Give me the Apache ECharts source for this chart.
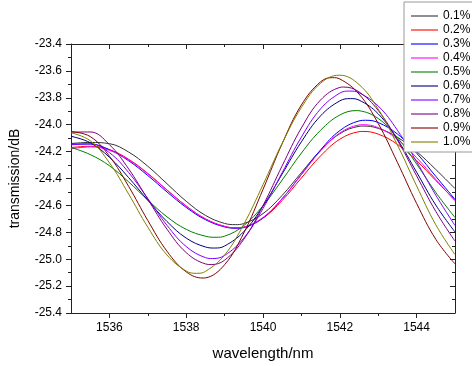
<!DOCTYPE html>
<html>
<head>
<meta charset="utf-8">
<script src="https://cdn.jsdelivr.net/npm/echarts@6/dist/echarts.min.js"></script>
<style>
  html, body { margin: 0; padding: 0; background: #fff; }
  #chart { width: 472px; height: 366px; }
</style>
</head>
<body>
<div id="chart"></div>
<script>
  // wavelength samples (nm)
  var wavelength = [1535, 1535.5, 1536, 1536.5, 1537, 1537.5, 1538, 1538.5, 1539, 1539.5, 1540,
                    1540.5, 1541, 1541.5, 1542, 1542.5, 1543, 1543.5, 1544, 1544.5, 1545];

  var names = ['0.1%', '0.2%', '0.3%', '0.4%', '0.5%', '0.6%', '0.7%', '0.8%', '0.9%', '1.0%'];
  var colors = ['#333333', '#ff0000', '#0000ff', '#ff00ff', '#008000', '#000080', '#8000ff', '#800080', '#800000', '#808000'];

  // transmission (dB) at the samples above
  var t01 = [-24.140, -24.132, -24.141, -24.203, -24.309, -24.439, -24.569, -24.674, -24.734, -24.735, -24.661,
             -24.525, -24.356, -24.191, -24.067, -24.012, -24.027, -24.093, -24.200, -24.333, -24.475];
  var t02 = [-24.170, -24.160, -24.185, -24.257, -24.362, -24.485, -24.604, -24.700, -24.756, -24.762, -24.695,
             -24.563, -24.396, -24.232, -24.108, -24.052, -24.070, -24.146, -24.268, -24.415, -24.562];
  var t03 = [-24.145, -24.144, -24.186, -24.268, -24.378, -24.500, -24.615, -24.706, -24.760, -24.765, -24.693,
             -24.550, -24.369, -24.187, -24.044, -23.972, -23.984, -24.069, -24.211, -24.384, -24.555];
  var t04 = [-24.180, -24.165, -24.190, -24.261, -24.366, -24.487, -24.605, -24.700, -24.756, -24.762, -24.690,
             -24.549, -24.371, -24.195, -24.062, -24.002, -24.022, -24.108, -24.245, -24.407, -24.566];
  var t05 = [-24.169, -24.222, -24.305, -24.425, -24.560, -24.685, -24.778, -24.829, -24.829, -24.750, -24.602,
             -24.411, -24.211, -24.041, -23.928, -23.896, -23.954, -24.096, -24.292, -24.504, -24.690];
  var t06 = [-24.086, -24.134, -24.242, -24.393, -24.562, -24.720, -24.843, -24.909, -24.902, -24.795, -24.605,
             -24.366, -24.127, -23.934, -23.823, -23.817, -23.919, -24.110, -24.353, -24.598, -24.798];
  var t07 = [-24.150, -24.142, -24.208, -24.355, -24.549, -24.748, -24.906, -24.988, -24.972, -24.843, -24.623,
             -24.356, -24.092, -23.882, -23.765, -23.763, -23.861, -24.041, -24.275, -24.524, -24.750];
  var t08 = [-24.055, -24.054, -24.148, -24.328, -24.554, -24.777, -24.951, -25.035, -25.007, -24.852, -24.601,
             -24.305, -24.024, -23.816, -23.723, -23.756, -23.894, -24.115, -24.380, -24.645, -24.866];
  var t09 = [-24.052, -24.088, -24.234, -24.458, -24.712, -24.941, -25.094, -25.139, -25.041, -24.805, -24.481,
             -24.140, -23.853, -23.681, -23.660, -23.772, -23.991, -24.280, -24.585, -24.852, -25.035];
  var t10 = [-24.060, -24.119, -24.283, -24.515, -24.762, -24.969, -25.088, -25.091, -24.969, -24.740, -24.446,
             -24.138, -23.872, -23.692, -23.632, -23.701, -23.884, -24.151, -24.455, -24.744, -24.966];

  // dip and peak of each curve (wavelength, dB)
  var dipWl   = [1539.28, 1539.33, 1539.33, 1539.33, 1538.78, 1538.74, 1538.69, 1538.65, 1538.44, 1538.27];
  var dipVal  = [-24.743, -24.767, -24.770, -24.767, -24.837, -24.917, -24.995, -25.040, -25.140, -25.105];
  var peakWl  = [1542.60, 1542.60, 1542.67, 1542.60, 1542.44, 1542.28, 1542.25, 1542.10, 1541.81, 1541.98];
  var peakVal = [-24.010, -24.050, -23.967, -24.000, -23.895, -23.806, -23.750, -23.720, -23.650, -23.632];

  var xMajor = [1536, 1538, 1540, 1542, 1544];
  var xMinor = [1537, 1539, 1541, 1543];

  var allSeries = [t01, t02, t03, t04, t05, t06, t07, t08, t09, t10];
  var font = 'Liberation Sans, Arial, sans-serif';

  var chart = echarts.init(document.getElementById('chart'));

  function xAxisOf(pos, ticks, len, major) {
    return {
      type: 'value',
      position: pos,
      min: 1535,
      max: 1545,
      name: (pos === 'bottom' && major) ? 'wavelength/nm' : '',
      nameLocation: 'middle',
      nameGap: 33,
      nameTextStyle: { fontFamily: font, fontSize: 15, color: '#000' },
      axisLine: { show: major, lineStyle: { color: '#222', width: 1 } },
      axisTick: { show: true, inside: pos === 'top', length: len, customValues: ticks,
                  lineStyle: { color: '#222', width: 1 } },
      axisLabel: { show: pos === 'bottom' && major, customValues: ticks, margin: 9,
                   fontFamily: font, fontSize: 12, color: '#000',
                   formatter: function (v) { return String(v); } },
      splitLine: { show: false }
    };
  }

  function yAxisOf(pos) {
    var left = pos === 'left';
    return {
      type: 'value',
      position: pos,
      min: -25.4,
      max: -23.4,
      interval: 0.2,
      name: left ? 'transmission/dB' : '',
      nameLocation: 'middle',
      nameGap: 49,
      nameTextStyle: { fontFamily: font, fontSize: 14, color: '#000' },
      axisLine: { show: true, lineStyle: { color: '#222', width: 1 } },
      axisTick: { show: true, inside: !left, length: 5, lineStyle: { color: '#222', width: 1 } },
      minorTick: { show: true, splitNumber: 2, length: 3, lineStyle: { color: '#222', width: 1 } },
      axisLabel: { show: left, margin: 9, fontFamily: font, fontSize: 12, color: '#000',
                   formatter: function (v) { return v.toFixed(1); } },
      splitLine: { show: false },
      minorSplitLine: { show: false }
    };
  }

  var series = allSeries.map(function (vals, i) {
    var pts = wavelength.map(function (w, j) { return [w, vals[j]]; });
    pts.push([dipWl[i], dipVal[i]]);
    pts.push([peakWl[i], peakVal[i]]);
    pts.sort(function (a, b) { return a[0] - b[0]; });
    return {
      name: names[i],
      type: 'line',
      data: pts,
      showSymbol: false,
      symbol: 'none',
      smooth: 0.4,
      lineStyle: { color: colors[i], width: 1 },
      itemStyle: { color: colors[i] },
      silent: true
    };
  });

  chart.setOption({
    animation: false,
    backgroundColor: '#fff',
    grid: { left: 59, right: 17, top: 44, bottom: 46 },
    legend: {
      data: names,
      orient: 'vertical',
      left: 404,
      top: 2,
      padding: [8, 3, 4, 6],
      itemGap: 2,
      itemWidth: 27,
      itemHeight: 10,
      backgroundColor: '#fff',
      borderColor: '#999',
      borderWidth: 1,
      borderRadius: 0,
      itemStyle: { opacity: 0, borderWidth: 0 },
      lineStyle: { width: 2, opacity: 0.55 },
      textStyle: { fontFamily: font, fontSize: 12, color: '#000' }
    },
    xAxis: [
      xAxisOf('bottom', xMajor, 5, true),
      xAxisOf('bottom', xMinor, 3, false),
      xAxisOf('top', xMajor, 5, true),
      xAxisOf('top', xMinor, 3, false)
    ],
    yAxis: [yAxisOf('left'), yAxisOf('right')],
    series: series
  });
</script>
</body>
</html>
